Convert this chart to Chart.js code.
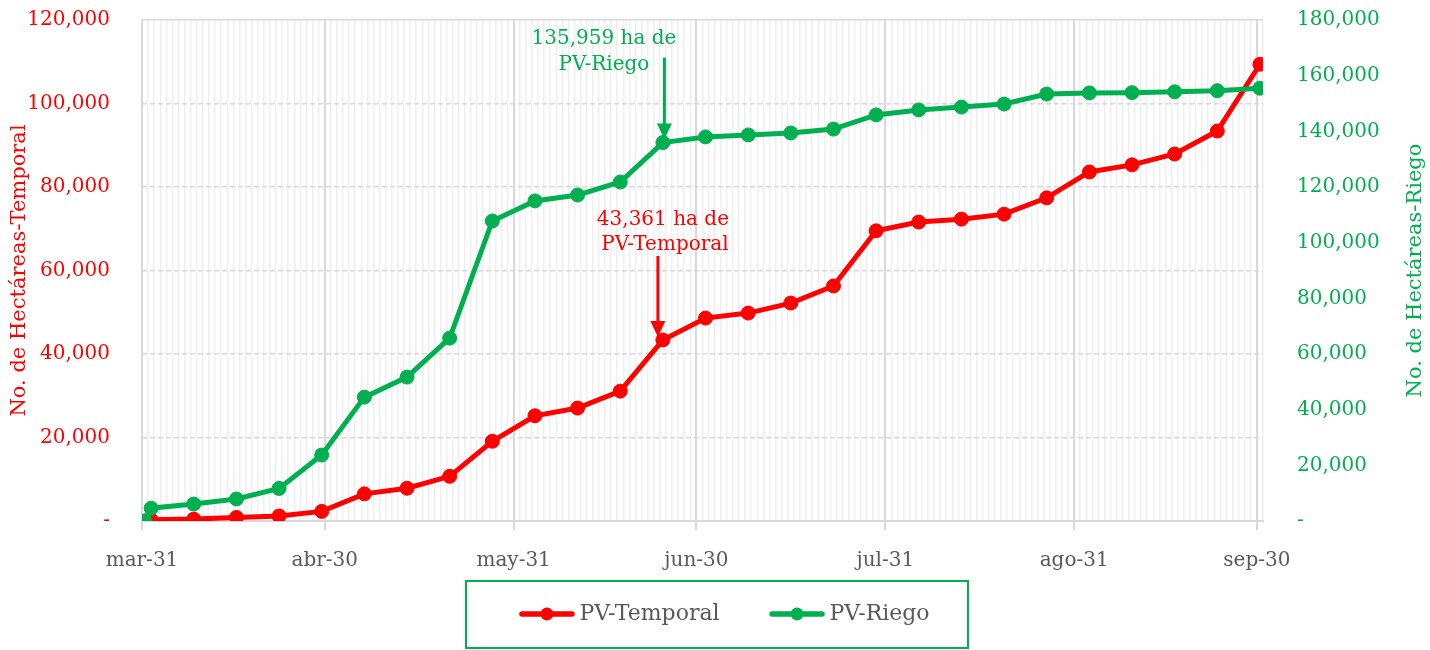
<!DOCTYPE html>
<html><head><meta charset="utf-8">
<script src="https://cdn.jsdelivr.net/npm/chart.js@4.4.1/dist/chart.umd.min.js"></script>
<style>html,body{margin:0;padding:0;background:#fff}#wrap{width:1430px;height:650px;position:relative}</style>
</head><body><div id="wrap"><canvas id="c" width="1430" height="650"></canvas></div>
<script>
// ---- data ----
const dates = ['2021-03-31','2021-04-01','2021-04-08','2021-04-15','2021-04-22','2021-04-29','2021-05-06','2021-05-13','2021-05-20','2021-05-27','2021-06-03','2021-06-10','2021-06-17','2021-06-24','2021-07-01','2021-07-08','2021-07-15','2021-07-22','2021-07-29','2021-08-05','2021-08-12','2021-08-19','2021-08-26','2021-09-02','2021-09-09','2021-09-16','2021-09-23','2021-09-30'];
const temporal = [0,300,450,850,1200,2300,6500,7850,10700,19100,25200,27050,31100,43361,48600,49800,52200,56300,69500,71600,72300,73500,77400,83600,85300,87900,93400,109400];
const riego = [0,4600,6100,7900,11700,23700,44500,51700,65700,107800,115000,117100,121800,135959,138000,138700,139400,140800,145900,147700,148700,149800,153400,153800,153900,154200,154600,155500];
const monthEndDates = ['2021-03-31','2021-04-30','2021-05-31','2021-06-30','2021-07-31','2021-08-31','2021-09-30'];
const monthEndLabels = ['mar-31','abr-30','may-31','jun-30','jul-31','ago-31','sep-30'];
const axisEndDate = '2021-10-01';
const leftMax = 120000, rightMax = 180000, yStep = 20000;
const seriesNames = ['PV-Temporal','PV-Riego'];
const axisTitles = ['No. de Hectáreas-Temporal','No. de Hectáreas-Riego'];
const annotIndex = 13;
const annotTextRiego = ['135,959 ha de','PV-Riego'];
const annotTextTemporal = ['43,361 ha de','PV-Temporal'];

// ---- helpers ----
const RED = '#ff0000', GREEN = '#00b050', GRAY = '#595959';
const FONT = "'DejaVu Serif', serif";
const t0 = Date.parse(dates[0] + 'T00:00:00Z');
const dayOf = s => Math.round((Date.parse(s + 'T00:00:00Z') - t0) / 86400000);
const monthEndDays = monthEndDates.map(dayOf);
const maxDay = dayOf(axisEndDate);
const fmt = v => v === 0 ? '-' : v.toLocaleString('en-US');

// legend icon: canvas 81 wide, centred on item x+34; line drawn in its right part
function makeIcon(color) {
  const c = document.createElement('canvas');
  c.width = 81; c.height = 16;
  const g = c.getContext('2d');
  g.strokeStyle = color; g.fillStyle = color; g.lineWidth = 5.5; g.lineCap = 'round';
  g.beginPath(); g.moveTo(28, 8); g.lineTo(78, 8); g.stroke();
  g.beginPath(); g.arc(53, 8, 6.5, 0, Math.PI * 2); g.fill();
  return c;
}

function arrow(ctx, x, y0, y1, color) {
  ctx.save();
  ctx.strokeStyle = color; ctx.fillStyle = color; ctx.lineWidth = 3;
  ctx.beginPath(); ctx.moveTo(x, y0); ctx.lineTo(x, y1 - 14); ctx.stroke();
  ctx.beginPath(); ctx.moveTo(x - 7.5, y1 - 16); ctx.lineTo(x + 7.5, y1 - 16); ctx.lineTo(x, y1); ctx.closePath(); ctx.fill();
  ctx.restore();
}

const extras = {
  id: 'extras',
  afterDraw(chart) {
    const ctx = chart.ctx, a = chart.chartArea;
    // right axis title (reads bottom-to-top)
    ctx.save();
    ctx.font = '21px ' + FONT; ctx.fillStyle = GREEN; ctx.textAlign = 'center'; ctx.textBaseline = 'middle';
    ctx.translate(1416, (a.top + a.bottom) / 2); ctx.rotate(-Math.PI / 2);
    ctx.fillText(axisTitles[1], 0, 0);
    ctx.restore();
    // annotations
    const pg = chart.getDatasetMeta(1).data[annotIndex];
    const pr = chart.getDatasetMeta(0).data[annotIndex];
    ctx.save();
    ctx.font = '20px ' + FONT; ctx.textAlign = 'center'; ctx.textBaseline = 'middle';
    ctx.fillStyle = GREEN;
    ctx.fillText(annotTextRiego[0], pg.x - 59, pg.y - 104);
    ctx.fillText(annotTextRiego[1], pg.x - 59, pg.y - 78);
    ctx.fillStyle = RED;
    ctx.fillText(annotTextTemporal[0], pr.x, pr.y - 120);
    ctx.fillText(annotTextTemporal[1], pr.x + 2, pr.y - 95);
    ctx.restore();
    arrow(ctx, pg.x + 1.5, pg.y - 85, pg.y - 3, GREEN);
    arrow(ctx, pr.x - 5, pr.y - 84, pr.y - 3, RED);
    // legend border box
    const lg = chart.legend;
    if (lg && lg.legendHitBoxes && lg.legendHitBoxes.length) {
      const hb = lg.legendHitBoxes;
      const cy = hb[0].top + hb[0].height / 2;
      const cx = (lg.left + lg.right) / 2;
      ctx.save();
      ctx.strokeStyle = GREEN; ctx.lineWidth = 2;
      ctx.strokeRect(cx - 249, cy - 33, 502, 67);
      ctx.restore();
    }
  }
};

const ptsT = dates.map((d, i) => ({x: dayOf(d) + 0.5, y: temporal[i]}));
const ptsR = dates.map((d, i) => ({x: dayOf(d) + 0.5, y: riego[i]}));
const isMajor = v => monthEndDays.includes(v);

new Chart(document.getElementById('c'), {
  type: 'line',
  data: {
    datasets: [
      {label: seriesNames[0], data: ptsT, yAxisID: 'y', borderColor: RED, backgroundColor: RED,
       borderWidth: 5, pointRadius: 7, pointBorderWidth: 1, pointBackgroundColor: RED, pointBorderColor: RED, tension: 0, order: 1},
      {label: seriesNames[1], data: ptsR, yAxisID: 'y1', borderColor: GREEN, backgroundColor: GREEN,
       borderWidth: 5, pointRadius: 7, pointBorderWidth: 1, pointBackgroundColor: GREEN, pointBorderColor: GREEN, tension: 0, order: 0}
    ]
  },
  options: {
    responsive: false, animation: false, devicePixelRatio: 1,
    layout: {padding: {top: 20, bottom: 15, left: 0, right: 0}},
    plugins: {
      tooltip: {enabled: false},
      legend: {
        position: 'bottom',
        labels: {
          usePointStyle: true, pointStyleWidth: 68, boxHeight: 14, padding: 31,
          color: GRAY, font: {family: FONT, size: 22},
          generateLabels: chart => chart.data.datasets.map((ds, i) => ({
            text: ds.label, pointStyle: makeIcon(ds.borderColor), fillStyle: ds.borderColor,
            strokeStyle: ds.borderColor, lineWidth: 0, hidden: false, datasetIndex: i, fontColor: GRAY
          }))
        }
      }
    },
    scales: {
      x: {
        type: 'linear', min: 0, max: maxDay,
        afterFit: s => { s.height = 650 - 15 - (s.chart.legend ? s.chart.legend.height : 0) - 521; },
        ticks: {
          stepSize: 1, autoSkip: false, maxRotation: 0, minRotation: 0, padding: 19,
          color: GRAY, font: {family: FONT, size: 20},
          callback: v => { const k = monthEndDays.indexOf(v); return k >= 0 ? monthEndLabels[k] : ''; }
        },
        grid: {
          color: c => (c.tick && isMajor(c.tick.value)) ? '#d9d9d9' : '#efefef',
          lineWidth: c => (c.tick && isMajor(c.tick.value)) ? 2 : 1.5,
          tickColor: c => (c.tick && isMajor(c.tick.value)) ? '#d9d9d9' : 'rgba(0,0,0,0)',
          tickLength: 9, drawTicks: true
        },
        border: {display: true, color: '#d9d9d9', width: 2}
      },
      y: {
        position: 'left', min: 0, max: leftMax,
        afterFit: s => { s.width = 142; },
        ticks: {stepSize: yStep, padding: 8, color: RED, font: {family: FONT, size: 20}, callback: v => fmt(v)},
        grid: {color: '#d9d9d9', lineWidth: 1.5, drawTicks: true, tickLength: 24, tickColor: 'rgba(0,0,0,0)'},
        border: {display: false, dash: c => (c.tick && (c.tick.value === 0 || c.tick.value === leftMax)) ? [] : [5, 3]},
        title: {display: true, text: axisTitles[0], color: RED, font: {family: FONT, size: 21}, padding: {top: 7, bottom: 0}}
      },
      y1: {
        position: 'right', min: 0, max: rightMax,
        afterFit: s => { s.width = 167; },
        ticks: {stepSize: yStep, padding: 8, color: GREEN, font: {family: FONT, size: 20}, callback: v => fmt(v)},
        grid: {drawOnChartArea: false, drawTicks: true, tickLength: 26, tickColor: 'rgba(0,0,0,0)'},
        border: {display: false}
      }
    }
  },
  plugins: [extras]
});
</script></body></html>
